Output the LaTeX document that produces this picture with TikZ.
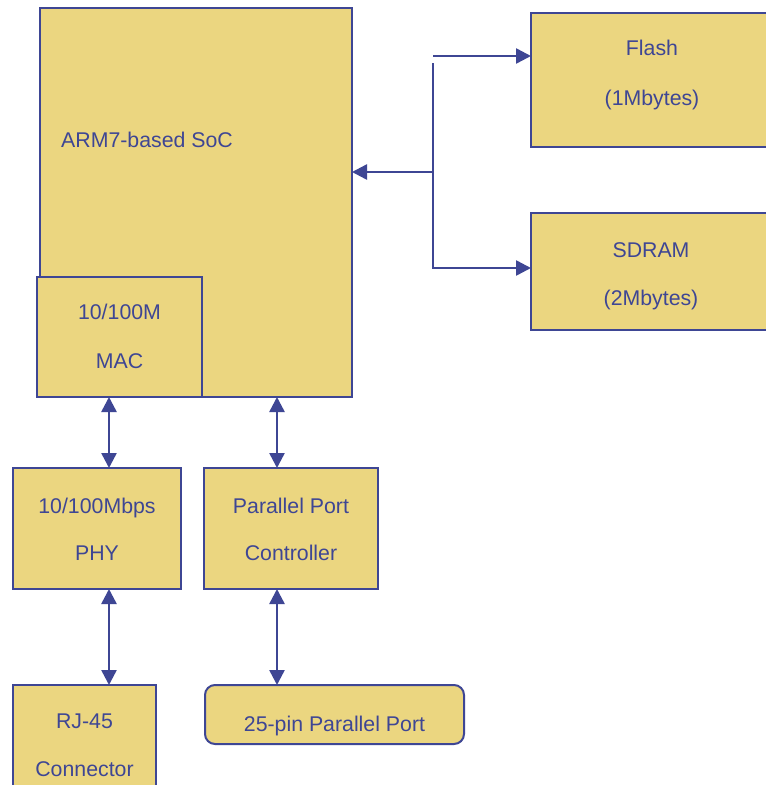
\documentclass[tikz,border=0pt]{standalone}
\usepackage{fontspec}
\setmainfont{Liberation Sans}
\usetikzlibrary{arrows.meta,calc}
\definecolor{boxfill}{RGB}{235,214,128}
\definecolor{navy}{RGB}{62,70,148}
\tikzset{
  blk/.style={draw=navy, fill=boxfill, line width=2pt, inner sep=0pt, outer sep=0pt, anchor=north west},
  txt/.style={text=navy, font=\fontsize{21.3}{25}\selectfont, inner sep=0pt, anchor=base},
  conn/.style={draw=navy, line width=2.5pt, arrows={-Triangle[length=15pt,width=15pt]}},
  biconn/.style={draw=navy, line width=2.5pt, arrows={Triangle[length=15pt,width=15pt]-Triangle[length=15pt,width=15pt]}},
  busline/.style={draw=navy, line width=2.5pt},
}
\begin{document}
\begin{tikzpicture}[x=1pt,y=-1pt]
\useasboundingbox (0,0) rectangle (766,785);
\clip (0,0) rectangle (766,785);
\fill[white] (0,0) rectangle (766,785);
% boxes
\node[blk, minimum width=312pt, minimum height=389pt] (soc) at (40,8) {};
\node[blk, minimum width=165pt, minimum height=120pt] (mac) at (37,277) {};
\node[blk, minimum width=168pt, minimum height=121pt] (phy) at (13,468) {};
\node[blk, minimum width=174pt, minimum height=121pt] (ppc) at (204,468) {};
\node[blk, minimum width=143pt, minimum height=125pt] (rj) at (13,685) {};
\node[blk, rounded corners=10pt, minimum width=259pt, minimum height=59pt] (pin) at (205,685) {};
\node[blk, minimum width=242pt, minimum height=134pt] (flash) at (531,13) {};
\node[blk, minimum width=242pt, minimum height=117pt] (sdram) at (531,213) {};
% texts
\node[txt, anchor=base west] (tsoc) at (61,147) {ARM7-based SoC};
\node[txt] (tmac1) at (119.5,319) {10/100M};
\node[txt] (tmac2) at (119.5,368) {MAC};
\node[txt] (tphy1) at (97,513) {10/100Mbps};
\node[txt] (tphy2) at (97,560) {PHY};
\node[txt] (tppc1) at (291,513) {Parallel Port};
\node[txt] (tppc2) at (291,560) {Controller};
\node[txt] (trj1) at (84.5,728) {RJ-45};
\node[txt] (trj2) at (84.5,776) {Connector};
\node[txt] (tpin) at (334.5,731) {25-pin Parallel Port};
\node[txt] (tfl1) at (652,55) {Flash};
\node[txt] (tfl2) at (652,105) {(1Mbytes)};
\node[txt] (tsd1) at (651,257) {SDRAM};
\node[txt] (tsd2) at (651,305) {(2Mbytes)};
% vertical connectors
\coordinate (m1) at ($(mac.south west)+(72,0)$);
\coordinate (m2) at ($(phy.south west)+(96,0)$);
\coordinate (p1) at ($(soc.south west)+(237,0)$);
\coordinate (p2) at ($(ppc.south west)+(73,0)$);
\draw[biconn] (m1) -- (m1 |- phy.north);
\draw[biconn] (m2) -- (m2 |- rj.north);
\draw[biconn] (p1) -- (p1 |- ppc.north);
\draw[biconn] (p2) -- (p2 |- pin.north);
% bus
\coordinate (btop) at (433,56);
\coordinate (bjoin) at (433,172);
\coordinate (bvtop) at (433,63);
\coordinate (bbot) at (433,268);
\draw[conn] (btop) -- (btop -| flash.west);
\draw[conn] (bjoin) -- (bjoin -| soc.east);
\draw[conn] (bvtop) -- (bbot) -- (bbot -| sdram.west);
\end{tikzpicture}
\end{document}
